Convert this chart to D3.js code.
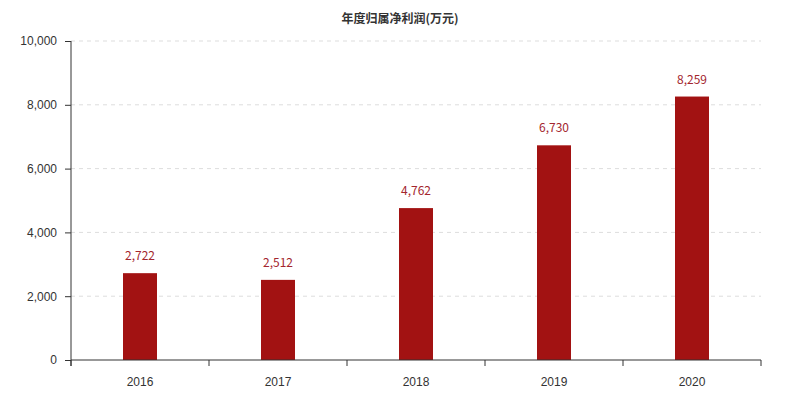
<!DOCTYPE html>
<html>
<head>
<meta charset="utf-8">
<script src="https://cdn.jsdelivr.net/npm/d3@7"></script>
<style>
  body { margin: 0; background: #fff; }
  svg { display: block; font-family: "Noto Sans CJK SC", "Noto Sans", sans-serif; }
</style>
</head>
<body>
<svg width="800" height="400"></svg>
<script>
// data
const years = ["2016", "2017", "2018", "2019", "2020"]
const profit = [2722, 2512, 4762, 6730, 8259]
const yTicks = [0, 2000, 4000, 6000, 8000, 10000]
const title = "年度归属净利润(万元)"

const svg = d3.select("svg")
const mLeft = 71, mRight = 761, mTop = 41, mBottom = 360

const x = d3.scaleBand().domain(years).range([mLeft, mRight])
const y = d3.scaleLinear().domain([0, 10000]).range([mBottom, mTop])

// title
svg.append("text")
  .attr("x", 400).attr("y", 23)
  .attr("text-anchor", "middle")
  .attr("font-size", 12)
  .attr("font-weight", "bold")
  .attr("fill", "#333")
  .text(title)

// dashed grid
svg.append("g")
  .selectAll("line")
  .data(yTicks.filter(d => d > 0))
  .enter().append("line")
    .attr("x1", mLeft).attr("x2", mRight)
    .attr("y1", d => y(d)).attr("y2", d => y(d))
    .attr("stroke", "#ddd")
    .attr("stroke-dasharray", "4,4")

// bars
const bw = 34
svg.append("g")
  .selectAll("rect")
  .data(profit)
  .enter().append("rect")
    .attr("x", (d, i) => x(years[i]) + x.bandwidth() / 2 - bw / 2)
    .attr("y", d => y(d))
    .attr("width", bw)
    .attr("height", d => mBottom - y(d))
    .attr("fill", "#a21212")

// value labels
svg.append("g")
  .selectAll("text")
  .data(profit)
  .enter().append("text")
    .attr("x", (d, i) => x(years[i]) + x.bandwidth() / 2)
    .attr("y", d => y(d) - 13)
    .attr("text-anchor", "middle")
    .attr("font-size", 12)
    .attr("fill", "#a3262e")
    .text(d => d3.format(",")(d))

// y axis
const yAxis = svg.append("g")
  .attr("transform", `translate(${mLeft},0)`)
  .call(d3.axisLeft(y).tickValues(yTicks).tickFormat(d3.format(",")).tickSize(6).tickPadding(8))
yAxis.select(".domain").attr("stroke", "#333").attr("d", `M-0,${mTop}V${mBottom + 6}`)
yAxis.selectAll(".tick line").attr("stroke", "#333")
yAxis.selectAll(".tick text").attr("fill", "#333").attr("font-size", 12)
  .style("font-family", "'Liberation Sans', Arial, sans-serif")

// x axis, ticks on band boundaries
const xAxis = svg.append("g")
  .attr("transform", `translate(0,${mBottom})`)
  .call(d3.axisBottom(x).tickSize(0).tickPadding(17))
xAxis.select(".domain").attr("stroke", "#333").attr("d", `M${mLeft},0H${mRight}`)
xAxis.selectAll(".tick text").attr("fill", "#333").attr("font-size", 12)
  .style("font-family", "'Liberation Sans', Arial, sans-serif")
xAxis.selectAll(".bound")
  .data(years.map(d => x(d)).concat([mRight]))
  .enter().append("line")
    .attr("x1", d => d).attr("x2", d => d)
    .attr("y1", 0).attr("y2", 6)
    .attr("stroke", "#333")
</script>
</body>
</html>
